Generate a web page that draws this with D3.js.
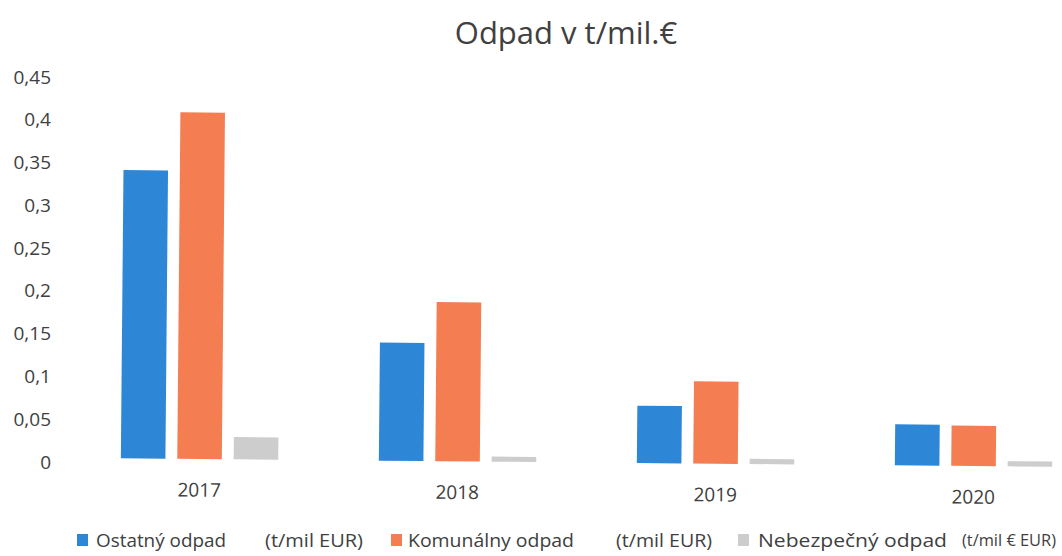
<!DOCTYPE html>
<html>
<head>
<meta charset="utf-8">
<script src="https://cdn.jsdelivr.net/npm/d3@7"></script>
<style>
  html, body { margin: 0; padding: 0; background: #ffffff; }
  svg { display: block; font-family: "Open Sans", "Noto Sans", sans-serif; }
</style>
</head>
<body>
<svg id="chart" width="1062" height="556"></svg>
<script>
// ---- data ----
const chartTitle = "Odpad v t/mil.€";
const years = ["2017", "2018", "2019", "2020"];
const seriesNames = ["Ostatný odpad", "Komunálny odpad", "Nebezpečný odpad"];
const seriesUnits = ["(t/mil EUR)", "(t/mil EUR)", "(t/mil € EUR)"];
const ostatnyOdpad = [0.337, 0.138, 0.067, 0.048];
const komunalnyOdpad = [0.405, 0.186, 0.096, 0.047];
const nebezpecnyOdpad = [0.026, 0.006, 0.006, 0.006];
const yTicks = [0, 0.05, 0.1, 0.15, 0.2, 0.25, 0.3, 0.35, 0.4, 0.45];
const seriesColors = ["#2E87D6", "#F47D52", "#CDCDCD"];

// ---- layout ----
const svg = d3.select("#chart");
const baseY = 462, topY = baseY - 385;
const textColor = "#404040";
const seriesValues = [ostatnyOdpad, komunalnyOdpad, nebezpecnyOdpad];

const x0 = d3.scaleBand().domain(years).range([72, 1104]).paddingInner(0.39).paddingOuter(0.195);
const x1 = d3.scaleBand().domain(d3.range(seriesNames.length)).range([0, x0.bandwidth()]).paddingInner(0.21);
const y = d3.scaleLinear().domain([0, 0.45]).range([baseY, topY]);

// title
svg.append("text")
  .attr("x", 566).attr("y", 32)
  .attr("text-anchor", "middle").attr("dominant-baseline", "central")
  .attr("font-size", 31).attr("fill", textColor)
  .text(chartTitle);

// y axis (labels only)
const fmt = v => String(v).replace(".", ",");
const yAxis = d3.axisLeft(y).tickValues(yTicks).tickFormat(fmt).tickSize(0).tickPadding(0);
const gy = svg.append("g").attr("transform", "translate(51,0)").call(yAxis);
gy.select(".domain").remove();
gy.selectAll("text").attr("font-size", 19).attr("fill", textColor)
  .attr("font-family", "'Open Sans', sans-serif");

// plot group (scan is slightly skewed)
const plot = svg.append("g").attr("transform", "rotate(0.52, 530, 300)");

const groups = plot.selectAll("g.year").data(years).join("g")
  .attr("class", "year")
  .attr("transform", d => `translate(${x0(d)},0)`);

groups.selectAll("rect").data((d, i) => seriesValues.map((vals, s) => ({ s, v: vals[i] })))
  .join("rect")
  .attr("x", d => x1(d.s))
  .attr("width", x1.bandwidth())
  .attr("y", d => y(d.v))
  .attr("height", d => y(0) - y(d.v))
  .attr("fill", d => seriesColors[d.s]);

const xAxis = d3.axisBottom(x0).tickSize(0).tickPadding(0);
const gx = plot.append("g").attr("transform", `translate(0,${baseY + 31})`).call(xAxis);
gx.select(".domain").remove();
gx.selectAll("text").attr("font-size", 19).attr("fill", textColor)
  .attr("dy", "0.35em").attr("font-family", "'Open Sans', sans-serif");

// legend
const legendX = [77, 391, 738];
const nameOffset = [19, 17, 20];
const nameWidth = [130, 166, 189];
const unitOffset = [188, 225, 224];
const unitWidth = [98, 96, 94];
const unitSize = [18, 18, 16];
const legendY = 540;
const leg = svg.append("g").selectAll("g").data(seriesNames).join("g")
  .attr("transform", (d, i) => `translate(${legendX[i]},${legendY})`);
leg.append("rect").attr("x", 0).attr("y", -6).attr("width", 11).attr("height", 12)
  .attr("fill", (d, i) => seriesColors[i]);
leg.append("text").attr("x", (d, i) => nameOffset[i]).attr("y", 0).attr("dominant-baseline", "central")
  .attr("font-size", 19).attr("fill", textColor)
  .attr("textLength", (d, i) => nameWidth[i]).attr("lengthAdjust", "spacingAndGlyphs")
  .text(d => d);
leg.append("text").attr("x", (d, i) => unitOffset[i]).attr("y", 0).attr("dominant-baseline", "central")
  .attr("font-size", (d, i) => unitSize[i]).attr("fill", textColor)
  .attr("textLength", (d, i) => unitWidth[i]).attr("lengthAdjust", "spacingAndGlyphs")
  .text((d, i) => seriesUnits[i]);
</script>
</body>
</html>
